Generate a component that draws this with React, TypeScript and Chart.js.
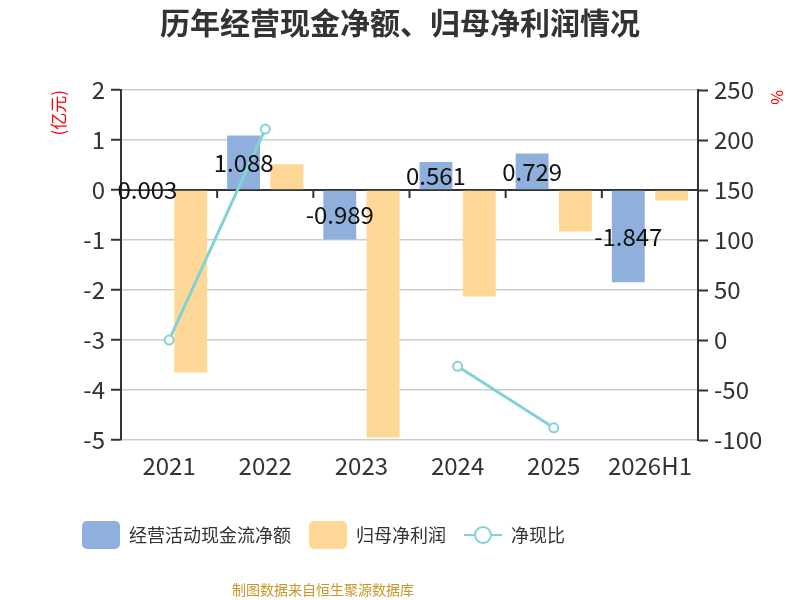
import React, { useEffect, useRef } from "react";
import { Chart, registerables } from "chart.js";

Chart.register(...registerables);

const categories = ["2021", "2022", "2023", "2024", "2025", "2026H1"];
const cashFlow = [0.003, 1.088, -0.989, 0.561, 0.729, -1.847];
const netProfit = [-3.65, 0.516, -4.95, -2.13, -0.83, -0.21];
const cashRatio: (number | null)[] = [-0.08, 210.9, null, -26.3, -87.8, null];

const leftMin = -5;
const leftMax = 2;
const leftStep = 1;
const rightMin = -100;
const rightMax = 250;
const rightStep = 50;

const seriesNames = ["经营活动现金流净额", "归母净利润", "净现比"];
const titleText = "历年经营现金净额、归母净利润情况";
const footerText = "制图数据来自恒生聚源数据库";
const leftUnit = "(亿元)";
const rightUnit = "%";

const BLUE = "#8FB0DC";
const ORANGE = "#FFD796";
const TEAL = "#82D3D6";
const FONT = '"Noto Sans CJK SC", "Noto Sans", sans-serif';

function makeBoxIcon(color: string) {
  const c = document.createElement("canvas");
  c.width = 38;
  c.height = 28;
  const ctx = c.getContext("2d")!;
  ctx.fillStyle = color;
  ctx.beginPath();
  (ctx as any).roundRect(0, 0, 38, 28, 5);
  ctx.fill();
  return c;
}

function makeLineIcon(color: string) {
  const c = document.createElement("canvas");
  c.width = 38;
  c.height = 28;
  const ctx = c.getContext("2d")!;
  ctx.strokeStyle = color;
  ctx.lineWidth = 2;
  ctx.beginPath();
  ctx.moveTo(0, 14);
  ctx.lineTo(38, 14);
  ctx.stroke();
  ctx.beginPath();
  ctx.arc(19, 14, 8, 0, Math.PI * 2);
  ctx.fillStyle = "#fff";
  ctx.fill();
  ctx.stroke();
  return c;
}

const zeroLinePlugin = {
  id: "zeroLineTicks",
  beforeDatasetsDraw(chart: any) {
    const x = chart.scales.x;
    const y = chart.scales.y;
    const y0 = y.getPixelForValue(0);
    const n = categories.length;
    const w = (x.right - x.left) / n;
    const ctx = chart.ctx;
    ctx.save();
    ctx.strokeStyle = "#333";
    ctx.lineWidth = 2;
    ctx.beginPath();
    ctx.moveTo(x.left, y0);
    ctx.lineTo(x.right, y0);
    for (let i = 0; i <= n; i++) {
      const px = x.left + i * w;
      ctx.moveTo(px, y0);
      ctx.lineTo(px, y0 + 8);
    }
    ctx.stroke();
    ctx.restore();
  },
};

const barLabelPlugin = {
  id: "barLabels",
  afterDatasetsDraw(chart: any) {
    const meta = chart.getDatasetMeta(0);
    const ctx = chart.ctx;
    ctx.save();
    ctx.font = `24px ${FONT}`;
    ctx.fillStyle = "#111";
    ctx.textAlign = "center";
    ctx.textBaseline = "middle";
    meta.data.forEach((el: any, i: number) => {
      const yc = (el.y + el.base) / 2;
      ctx.fillText(String(cashFlow[i]), el.x, yc);
    });
    ctx.restore();
  },
};

// Legend and footer in the reference sit left of the page centre.
const shiftPlugin = {
  id: "legendShift",
  afterLayout(chart: any) {
    const lg = chart.legend;
    if (lg) {
      const w = lg.right - lg.left;
      lg.left = 64;
      lg.right = 64 + w;
    }
    (chart.boxes || []).forEach((b: any) => {
      if (b !== chart.legend && b.options && b.options.text === footerText) {
        const w = b.right - b.left;
        b.left = 323 - w / 2;
        b.right = 323 + w / 2;
      }
    });
  },
};

export default function App() {
  const ref = useRef<HTMLCanvasElement | null>(null);

  useEffect(() => {
    if (!ref.current) return;
    const icons = [makeBoxIcon(BLUE), makeBoxIcon(ORANGE), makeLineIcon(TEAL)];
    const chart = new Chart(ref.current, {
      type: "bar",
      data: {
        labels: categories,
        datasets: [
          {
            type: "bar",
            label: seriesNames[0],
            data: cashFlow,
            backgroundColor: BLUE,
            yAxisID: "y",
            order: 2,
            barPercentage: 0.76,
            categoryPercentage: 0.9,
          },
          {
            type: "bar",
            label: seriesNames[1],
            data: netProfit,
            backgroundColor: ORANGE,
            yAxisID: "y",
            order: 3,
            barPercentage: 0.76,
            categoryPercentage: 0.9,
          },
          {
            type: "line",
            label: seriesNames[2],
            data: cashRatio,
            borderColor: TEAL,
            backgroundColor: "#fff",
            borderWidth: 3,
            pointRadius: 4.5,
            pointBorderWidth: 2,
            pointBackgroundColor: "#fff",
            pointBorderColor: TEAL,
            spanGaps: false,
            yAxisID: "y1",
            order: 1,
          } as any,
        ],
      },
      options: {
        responsive: false,
        animation: false,
        layout: { padding: 0 },
        font: { family: FONT },
        plugins: {
          title: {
            display: true,
            text: titleText,
            color: "#333",
            font: { size: 30, weight: "bold", family: FONT },
            padding: { top: 4.5, bottom: 49.5 },
          },
          subtitle: {
            display: true,
            position: "bottom",
            text: footerText,
            color: "#C9962B",
            font: { size: 14, family: FONT },
            padding: { top: 27.6, bottom: 1.6 },
          },
          legend: {
            position: "bottom",
            align: "start",
            labels: {
              usePointStyle: true,
              pointStyleWidth: 38,
              padding: 18,
              color: "#333",
              font: { size: 18, family: FONT },
              generateLabels: (c: any) => {
                const items = (Chart.defaults.plugins.legend.labels as any).generateLabels(c);
                return items
                  .map((it: any) => ({ ...it, pointStyle: icons[it.datasetIndex] }))
                  .sort((a: any, b: any) => a.datasetIndex - b.datasetIndex);
              },
            },
          },
          tooltip: { enabled: false },
        },
        scales: {
          x: {
            type: "category",
            grid: { display: false, drawTicks: false },
            border: { display: false },
            ticks: { font: { size: 24, family: FONT }, color: "#333", padding: 11, maxRotation: 0 },
            afterFit: (s: any) => {
              s.height = 68;
            },
          },
          y: {
            position: "left",
            min: leftMin,
            max: leftMax,
            ticks: { stepSize: leftStep, font: { size: 24, family: FONT }, color: "#333", padding: 6 },
            grid: {
              color: (ctx: any) => (ctx.tick && ctx.tick.value === 0 ? "#333" : "#ccc"),
              lineWidth: 1.5,
              tickColor: "#333",
              tickLength: 10,
              tickWidth: 2,
            },
            border: { display: true, color: "#333", width: 2 },
            title: {
              display: true,
              text: leftUnit,
              color: "#f00",
              align: "end",
              font: { size: 17, family: FONT },
              padding: { top: 48, bottom: 0 },
            },
            afterFit: (s: any) => {
              s.width = 121;
            },
          },
          y1: {
            position: "right",
            min: rightMin,
            max: rightMax,
            ticks: { stepSize: rightStep, font: { size: 24, family: FONT }, color: "#333", padding: 6 },
            grid: {
              drawOnChartArea: false,
              tickColor: "#333",
              tickLength: 10,
              tickWidth: 2,
            },
            border: { display: true, color: "#333", width: 2 },
            title: {
              display: true,
              text: rightUnit,
              color: "#f00",
              align: "end",
              font: { size: 16, family: FONT },
              padding: { top: 13, bottom: 0 },
            },
            afterFit: (s: any) => {
              s.width = 102;
            },
          },
        },
      } as any,
      plugins: [zeroLinePlugin, barLabelPlugin, shiftPlugin],
    });
    return () => chart.destroy();
  }, []);

  return (
    <div style={{ position: "fixed", left: 0, top: 0, width: 800, height: 600, background: "#fff" }}>
      <canvas ref={ref} width={800} height={600} style={{ display: "block" }} />
    </div>
  );
}
